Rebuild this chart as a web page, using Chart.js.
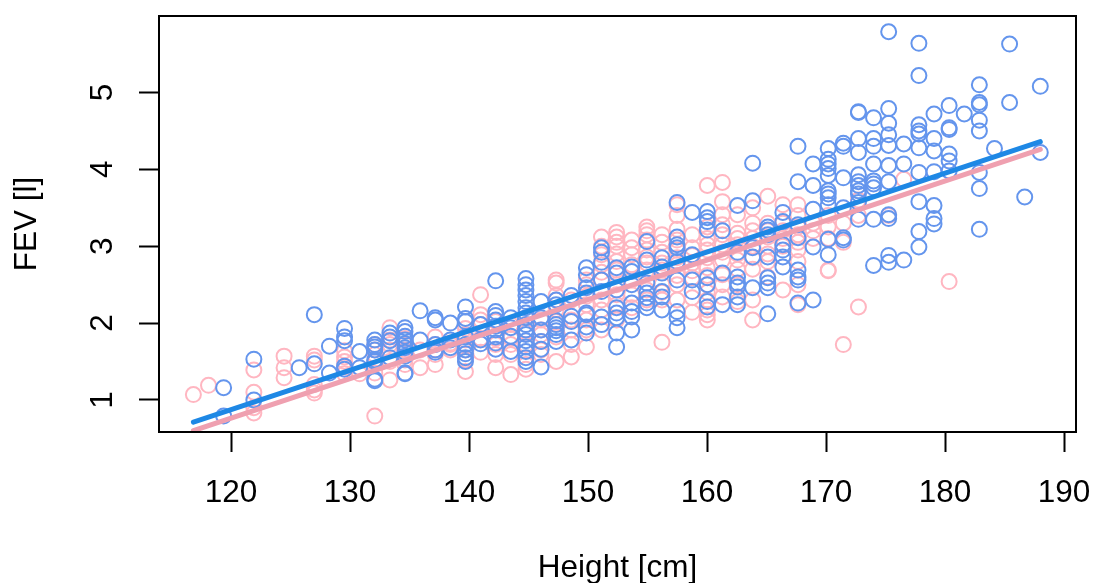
<!DOCTYPE html>
<html><head><meta charset="utf-8">
<style>html,body{margin:0;padding:0;background:#fff}#w{width:1093px;height:583px;position:relative}</style>
<script src="https://cdn.jsdelivr.net/npm/chart.js@4"></script></head>
<body><div id="w"><canvas id="c" width="1093" height="583"></canvas></div>
<script>
const xTickValues=[120,130,140,150,160,170,180,190];
const yTickValues=[1,2,3,4,5];
const xLabel="Height [cm]";
const yLabel="FEV [l]";
const lineHeights=[116.84,188];
const maleFit=[0.71,4.36];
const femaleFit=[0.6,4.26];
// [height, fev values at that height]
const maleColumns=[
[119.38,[1.16,0.79]],[121.92,[1.53,1.0]],[125.73,[1.42]],[127,[2.11,1.47]],[128.27,[1.35,1.7]],
[129.54,[1.93,1.82,1.77,1.44,1.40]],[130.81,[1.63,1.42]],[132.08,[1.78,1.72,1.69,1.65,1.52,1.5,1.27,1.25]],
[133.35,[1.87,1.82,1.77,1.55]],[134.62,[1.94,1.89,1.83,1.78,1.73,1.68,1.62,1.57,1.35,1.34]],
[135.89,[2.16,1.78]],[137.16,[2.07,2.04,1.72,1.65,1.62]],[138.43,[2.0,1.78,1.68]],
[139.7,[2.21,2.06,2.02,1.82,1.72,1.65,1.6,1.55,1.5]],[140.97,[1.98,1.78,1.73]],
[142.24,[2.55,2.15,2.1,2.04,1.96,1.91,1.82,1.74,1.66]],[143.51,[2.07,1.94,1.83,1.63]],
[144.78,[2.58,2.5,2.43,2.36,2.28,2.2,2.13,2.07,1.98,1.91,1.85,1.77,1.69,1.63,1.55,1.5]],
[146.05,[2.28,2.07,1.91,1.76,1.66,1.43]],[147.32,[2.3,2.24,2.03,1.98,1.94,1.9,1.85,1.76]],
[148.59,[2.36,2.09,2.02,1.78]],[149.86,[2.72,2.63,2.46,2.39,2.13,2.11,1.95,1.87]],
[151.13,[2.98,2.92,2.79,2.56,2.41,2.08,1.98]],[152.4,[2.72,2.65,2.43,2.2,2.13,2.07,1.87,1.69]],
[153.67,[2.73,2.67,2.5,2.26,2.15,2.08,1.91]],[154.94,[3.06,2.82,2.52,2.39,2.33,2.26,2.2]],
[156.21,[2.85,2.73,2.65,2.41,2.34,2.17]],[157.48,[3.57,3.12,3.02,2.98,2.8,2.56,2.15,2.07,1.94]],
[158.75,[3.44,2.89,2.56,2.41]],[160.02,[3.45,3.37,3.32,3.21,2.59,2.5,2.28,2.21]],
[161.29,[3.2,2.65,2.24]],[162.56,[3.53,2.92,2.6,2.52,2.47,2.34,2.24]],
[163.83,[4.08,3.59,2.98,2.86,2.46]],[165.1,[3.25,3.21,3.15,2.86,2.59,2.52,2.46,2.12]],
[166.37,[3.44,3.32,3.02,2.95,2.86,2.73]],[167.64,[4.3,3.84,3.28,3.11,2.69,2.6,2.56,2.26]],
[168.91,[4.07,3.79,3.48,2.99,2.3]],[170.18,[4.27,4.13,4.07,4.01,3.92,3.72,3.68,3.63,3.54,3.09,2.89]],
[171.45,[4.34,4.3,3.89,3.5,3.11,3.08]],[172.72,[4.75,4.74,4.4,4.22,3.93,3.84,3.79,3.72,3.68,3.57,3.35]],
[173.99,[4.67,4.4,4.3,4.07,3.85,3.81,3.76,3.35,2.75]],[175.26,[5.79,4.79,4.6,4.45,4.31,4.05,3.84,3.41,3.36,2.88,2.79]],
[176.53,[4.33,4.07,2.82]],[177.8,[5.64,5.22,4.58,4.5,4.46,4.28,3.96,3.58,3.19,2.99]],
[179.07,[4.72,4.4,4.24,3.97,3.53,3.36,3.29]],[180.34,[4.83,4.54,4.52,4.2,4.11,3.98]],
[181.61,[4.72]],[182.88,[5.1,4.87,4.84,4.64,4.5,3.96,3.75,3.22]],[184.15,[4.27]],
[185.42,[5.63,4.87]],[186.69,[3.64]],[188,[5.08,4.22]]
];
const femaleColumns=[
[116.84,[1.07]],[118.11,[1.19]],[121.92,[1.39,1.1,0.9,0.83]],[124.46,[1.57,1.42,1.29]],
[127,[1.57,1.52,1.2,1.13,1.09]],[129.54,[1.64,1.56,1.5,1.43,1.34]],[130.81,[1.34]],
[132.08,[1.72,1.65,1.59,1.5,1.35,0.79]],[133.35,[1.94,1.78,1.72,1.65,1.5,1.26]],
[134.62,[1.8,1.72,1.65,1.52,1.46]],[135.89,[1.65,1.42]],[137.16,[1.82,1.72,1.59,1.46]],
[138.43,[1.74,1.72,1.65]],[139.7,[1.93,1.85,1.78,1.65,1.52,1.37]],[140.97,[2.37,2.11,2.04,1.98,1.8,1.62]],
[142.24,[2.02,1.8,1.72,1.59,1.42]],[143.51,[1.98,1.72,1.8,1.59,1.33]],
[144.78,[2.07,1.88,1.72,1.46,1.4]],[146.05,[2.04,1.91,1.85,1.76,1.65,1.59]],
[147.32,[2.56,2.52,2.36,2.3,2.17,2.02,1.82,1.5]],[148.59,[2.3,2.04,1.91,1.72,1.56]],
[149.86,[2.56,2.5,2.35,2.24,2.04,1.91,1.69]],[151.13,[3.12,3.0,2.89,2.76,2.66,2.56,2.3,2.17,1.91]],
[152.4,[3.18,3.12,3.05,3.0,2.9,2.8,2.69,2.5,2.37,2.24,2.04]],[153.67,[3.08,2.98,2.89,2.76,2.56,2.37,2.2]],
[154.94,[3.25,3.2,3.15,3.08,2.95,2.86,2.78,2.69,2.43,2.3]],[156.21,[3.15,3.05,2.92,2.78,2.69,2.5,2.4,2.3,1.75]],
[157.48,[3.54,3.4,3.22,3.08,2.95,2.85,2.76,2.62,2.5,2.3]],[158.75,[3.15,2.98,2.88,2.78,2.68,2.59,2.33,2.14]],
[160.02,[3.79,3.25,3.1,3.02,2.95,2.85,2.72,2.62,2.5,2.4,2.3,2.17,2.11,2.04]],[161.29,[3.83,3.58,3.41,3.28,3.15,3.02,2.92,2.82,2.63,2.5,2.34]],
[162.56,[3.41,3.17,3.1,3.02,2.9,2.82,2.7,2.5,2.28]],[163.83,[3.5,3.3,3.2,3.1,3.0,2.85,2.7,2.3,2.04]],
[165.1,[3.65,3.3,3.2,3.12,3.0,2.9,2.8,2.6]],[166.37,[3.54,3.3,3.2,3.1,3.0,2.43]],[167.64,[3.54,3.4,3.25,3.15,3.05,2.95,2.8,2.5,2.24]],
[168.91,[3.3,3.2,3.1]],[170.18,[3.4,3.25,3.1,2.69,2.68]],[171.45,[3.3,3.05,1.72]],
[172.72,[3.6,3.4,2.21]],[175.26,[3.4]],[176.53,[3.87]],[180.34,[2.54]]
];
const toPoints=cols=>cols.flatMap(([h,vs])=>vs.map(v=>({x:h,y:v})));
const box={id:'box',afterDatasetsDraw(ch){const a=ch.chartArea,g=ch.ctx;g.save();g.strokeStyle='#000';g.lineWidth=2;g.strokeRect(a.left,a.top,a.right-a.left,a.bottom-a.top);g.restore();}};
const pts=(cols,color,order)=>({type:'scatter',data:toPoints(cols),showLine:false,order,pointRadius:7.5,pointHoverRadius:7.5,pointBackgroundColor:'rgba(0,0,0,0)',pointBorderColor:color,pointBorderWidth:2});
const fit=(vals,color,order)=>({type:'line',data:lineHeights.map((x,i)=>({x,y:vals[i]})),borderColor:color,borderWidth:5,pointRadius:0,tension:0,order,borderCapStyle:'round'});
const fnt={family:'"Liberation Sans"',size:31.5};
new Chart(document.getElementById('c'),{
 data:{datasets:[pts(femaleColumns,'#FFB6C1',4),pts(maleColumns,'#6495ED',3),fit(femaleFit,'#EFA0B0',2),fit(maleFit,'#1E88E5',1)]},
 plugins:[box],
 options:{responsive:false,animation:false,devicePixelRatio:1,
  layout:{padding:{left:0,top:16,right:17,bottom:0}},
  plugins:{legend:{display:false},tooltip:{enabled:false}},
  scales:{
   x:{type:'linear',min:113.95,max:191,
      afterBuildTicks:s=>{s.ticks=xTickValues.map(value=>({value}));},
      afterFit:s=>{s.height=151;s.paddingLeft=0;s.paddingRight=0;},
      border:{display:false},
      grid:{drawOnChartArea:false,drawTicks:true,tickLength:20,tickColor:'#000',tickWidth:2},
      ticks:{color:'#000',font:fnt,maxRotation:0,minRotation:0,padding:22,autoSkip:false},
      title:{display:true,text:xLabel,color:'#000',font:fnt,padding:{top:32,bottom:-4}}},
   y:{type:'linear',min:0.583,max:5.995,
      afterBuildTicks:s=>{s.ticks=yTickValues.map(value=>({value}));},
      afterFit:s=>{s.width=159;s.paddingTop=0;s.paddingBottom=0;},
      border:{display:false},
      grid:{drawOnChartArea:false,drawTicks:true,tickLength:20,tickColor:'#000',tickWidth:2},
      ticks:{color:'#000',font:fnt,minRotation:90,maxRotation:90,padding:27,autoSkip:false,crossAlign:'center'},
      title:{display:true,text:yLabel,color:'#000',font:fnt,padding:{top:8,bottom:36}}}
  }}
});
</script></body></html>
